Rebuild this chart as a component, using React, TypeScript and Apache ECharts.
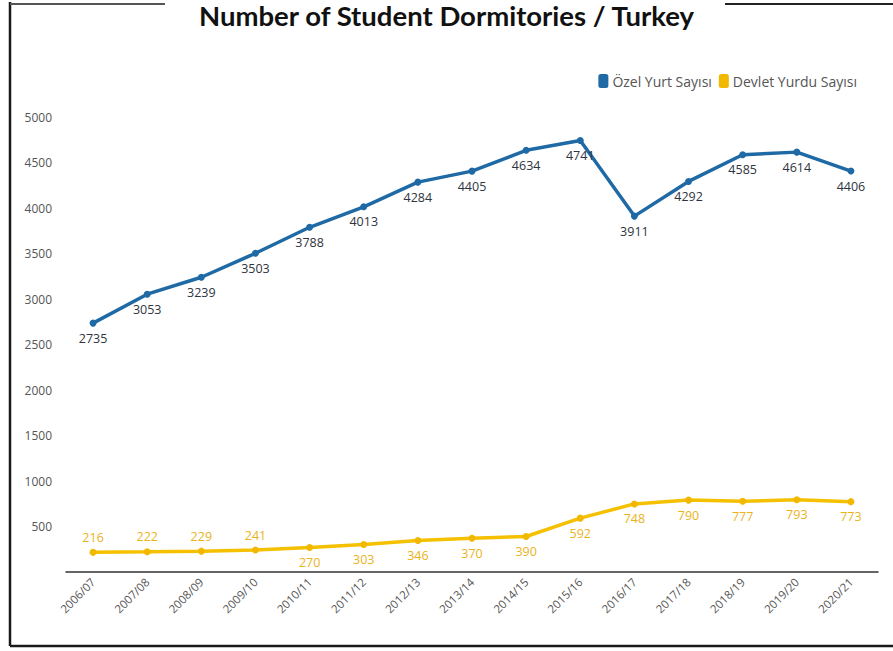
import React, { useEffect, useRef } from "react";
import * as echarts from "echarts";

const categories = [
  "2006/07", "2007/08", "2008/09", "2009/10", "2010/11", "2011/12", "2012/13", "2013/14",
  "2014/15", "2015/16", "2016/17", "2017/18", "2018/19", "2019/20", "2020/21",
];
const ozelYurt = [2735, 3053, 3239, 3503, 3788, 4013, 4284, 4405, 4634, 4741, 3911, 4292, 4585, 4614, 4406];
const devletYurdu = [216, 222, 229, 241, 270, 303, 346, 370, 390, 592, 748, 790, 777, 793, 773];
const yTicks = [500, 1000, 1500, 2000, 2500, 3000, 3500, 4000, 4500, 5000];
const titleText = "Number of Student Dormitories / Turkey";
const seriesNames = ["Özel Yurt Sayısı", "Devlet Yurdu Sayısı"];

const FONT = "'Open Sans', 'DejaVu Sans', sans-serif";

export default function App() {
  const ref = useRef<HTMLDivElement>(null);
  useEffect(() => {
    if (!ref.current) return;
    const chart = echarts.init(ref.current, null, { renderer: "svg" });
    const frame = { stroke: "#1a1a1a", lineWidth: 2.5 };
    chart.setOption({
      animation: false,
      backgroundColor: "#ffffff",
      textStyle: { fontFamily: FONT },
      title: {
        text: titleText,
        left: "center",
        top: 0,
        padding: [1, 5, 0, 5],
        textStyle: {
          fontFamily: "Lato, 'Open Sans', sans-serif",
          fontSize: 27.5,
          lineHeight: 28,
          fontWeight: "bold",
          color: "#111",
        },
      },
      legend: {
        right: 31,
        top: 69,
        icon: "roundRect",
        itemWidth: 10,
        itemHeight: 14,
        itemGap: 7,
        textStyle: { fontFamily: FONT, fontSize: 14, color: "#555", padding: [0, 0, 0, -1] },
        data: seriesNames,
      },
      grid: { left: 66, right: 15, top: 117, bottom: 79 },
      xAxis: {
        type: "category",
        data: categories,
        boundaryGap: true,
        axisLine: { lineStyle: { color: "#333", width: 1.5 } },
        axisTick: { alignWithLabel: true, length: 6, lineStyle: { color: "#222", width: 1.5 } },
        axisLabel: { rotate: 45, fontSize: 11.5, color: "#555", margin: 8, interval: 0, fontFamily: FONT },
      },
      yAxis: {
        type: "value",
        min: 0,
        max: 5000,
        interval: 500,
        axisLine: { show: false },
        axisTick: { show: false },
        splitLine: { show: false },
        axisLabel: {
          fontSize: 12,
          color: "#555",
          margin: 14,
          fontFamily: FONT,
          formatter: (v: number) => (yTicks.includes(v) ? String(v) : ""),
        },
      },
      series: [
        {
          name: seriesNames[0],
          type: "line",
          data: ozelYurt,
          color: "#1f6aa5",
          lineStyle: { width: 3.5, color: "#1f6aa5" },
          symbol: "circle",
          symbolSize: 7,
          itemStyle: { color: "#1f6aa5" },
          label: {
            show: true,
            position: "bottom",
            distance: 5,
            fontSize: 12.5,
            color: "#2f3440",
            fontFamily: FONT,
          },
        },
        {
          name: seriesNames[1],
          type: "line",
          data: devletYurdu.map((v, i) => ({
            value: v,
            label: { position: i < 4 ? "top" : "bottom" },
          })),
          color: "#f5c000",
          lineStyle: { width: 3.5, color: "#f5c000" },
          symbol: "circle",
          symbolSize: 7,
          itemStyle: { color: "#f2b800" },
          label: {
            show: true,
            distance: 5,
            fontSize: 12.5,
            color: "#eab31a",
            fontFamily: FONT,
          },
        },
      ],
      graphic: [
        { type: "line", shape: { x1: 10, y1: 2, x2: 10, y2: 646 }, style: frame },
        { type: "line", shape: { x1: 10, y1: 646, x2: 893, y2: 646 }, style: frame },
        { type: "line", shape: { x1: 10, y1: 4, x2: 165, y2: 4 }, style: { stroke: "#555", lineWidth: 2 } },
        { type: "line", shape: { x1: 725, y1: 4, x2: 893, y2: 4 }, style: { stroke: "#222", lineWidth: 2 } },
      ],
    });
    return () => chart.dispose();
  }, []);
  return (
    <div
      ref={ref}
      style={{ position: "fixed", left: 0, top: 0, width: 893, height: 651 }}
    />
  );
}
